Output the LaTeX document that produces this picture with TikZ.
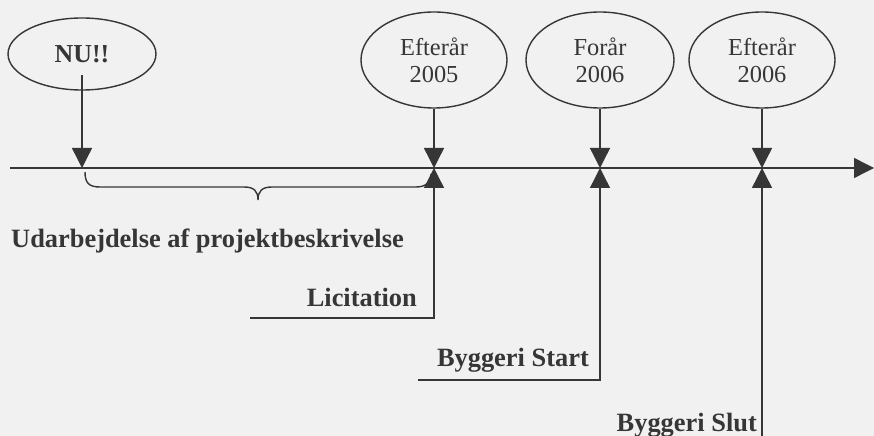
\documentclass[tikz,border=0pt]{standalone}
\usepackage{fontspec}
\setmainfont{Liberation Serif}
\usetikzlibrary{shapes.geometric,arrows.meta}
\definecolor{ink}{HTML}{363636}
\definecolor{paper}{HTML}{F1F1F1}
\tikzset{
  ln/.style={draw=ink, line width=1.4bp},
  tip/.style={ln, -{Triangle[length=20bp,width=20bp]}},
  bub/.style={ellipse, draw=ink, line width=1.4bp, text=ink, align=center, inner sep=0pt,
              font=\fontsize{24.5}{27}\selectfont},
  lab/.style={text=ink, inner sep=0pt, font=\fontsize{26.5}{30}\selectfont\bfseries}
}
\begin{document}
\begin{tikzpicture}[x=1bp,y=-1bp]
\useasboundingbox[fill=paper] (0,0) rectangle (874,436);
% bubbles
\node[bub, minimum width=148bp, minimum height=72bp, font=\fontsize{26}{30}\selectfont\bfseries] (nu) at (82,54) {NU!!};
\node[bub, minimum width=146bp, minimum height=96bp] (e05) at (434,60) {Efterår\\2005};
\node[bub, minimum width=148bp, minimum height=96bp] (f06) at (600,60) {Forår\\2006};
\node[bub, minimum width=146bp, minimum height=96bp] (e06) at (762,60) {Efterår\\2006};
% timeline
\coordinate (ts) at (10,168);
\coordinate (te) at (874,168);
\coordinate (t0) at (nu.center |- ts);
\coordinate (t1) at (e05.south |- ts);
\coordinate (t2) at (f06.south |- ts);
\coordinate (t3) at (e06.south |- ts);
\draw[tip] (ts) -- (te);
\coordinate (nus) at (82,75);
\draw[tip] (nus) -- (t0);
\draw[tip] (e05.south) -- (t1);
\draw[tip] (f06.south) -- (t2);
\draw[tip] (e06.south) -- (t3);
% brace
\coordinate (b0) at (85,172);
\coordinate (b1) at (100,187);
\coordinate (bm) at (258,200);
\coordinate (b2) at (416,187);
\coordinate (b3) at (431,174);
\draw[ln] (b0) .. controls (85,183) and (89,187) .. (b1)
  -- (244,187) .. controls (254,187) and (258,191) .. (bm)
  .. controls (258,191) and (262,187) .. (272,187) -- (b2)
  .. controls (426,187) and (431,182) .. (b3);
% labels
\node[lab, anchor=west] (ud) at (11,241) {Udarbejdelse af projektbeskrivelse};
\node[lab, anchor=east] (lic) at (417,297) {Licitation};
\node[lab, anchor=east] (bst) at (589,360) {Byggeri Start};
\node[lab, anchor=east] (bsl) at (757,425) {Byggeri Slut};
\coordinate (licl) at (250,318);
\coordinate (licr) at (t1 |- licl);
\coordinate (bstl) at (418,380);
\coordinate (bstr) at (t2 |- bstl);
\coordinate (bslb) at (t3 |- 0,436);
\draw[tip] (licl) -- (licr) -- (t1);
\draw[tip] (bstl) -- (bstr) -- (t2);
\draw[tip] (bslb) -- (t3);
\end{tikzpicture}
\end{document}
